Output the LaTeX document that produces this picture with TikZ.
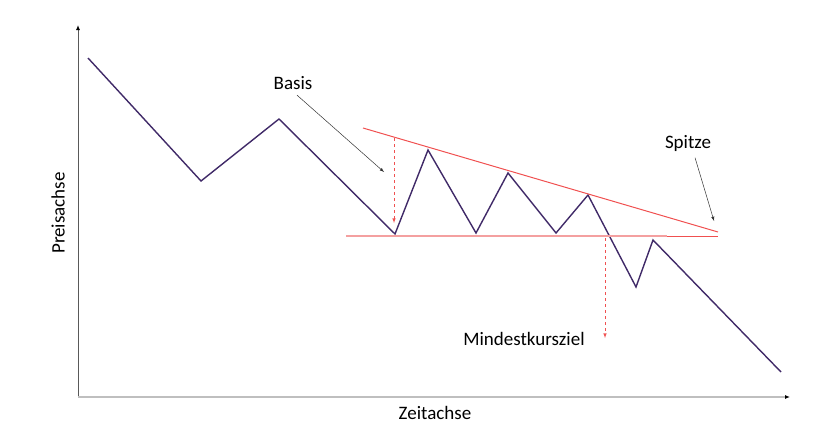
\documentclass[tikz,border=0pt]{standalone}
\usepackage{fontspec}
\setmainfont{Carlito}
\usepackage{tikz}
\usetikzlibrary{arrows.meta}
\definecolor{kurs}{RGB}{64,42,104}
\definecolor{trend}{RGB}{240,80,80}
\definecolor{trendhell}{RGB}{244,160,160}

\begin{document}
\begin{tikzpicture}[x=1pt, y=-1pt, >=latex, font=\fontsize{19}{22}\selectfont]
        \useasboundingbox (0,0) rectangle (840,447);
        % Achsen
        \coordinate (O) at (78,397);
        \coordinate (ytop) at (78,25);
        \coordinate (xend) at (790,397);
        \draw[-{Latex[length=5pt,width=4pt,black]}, black!65, line width=1pt] (O)--(ytop);
        \draw[-{Latex[length=5pt,width=4pt,black]}, black!25, line width=1.6pt] (O)--(xend);
        \node[rotate=90] (pa) at (58,213) {Preisachse};
        \node (za) at (435,413) {Zeitachse};
        % Kursverlauf
        \foreach \n/\p in {0/{88,58},1/{201,181},2/{279,119},3/{395,234},4/{428,150},5/{476,233},
                           6/{508,173},7/{556,233},8/{588,195},9/{636,287},10/{653,240},11/{781,372}}{
            \coordinate (k\n) at (\p);
        }
        \draw[kurs, line width=1.4pt, line join=miter]
            (k0)--(k1)--(k2)--(k3)--(k4)--(k5)--(k6)--(k7)--(k8)--(k9)--(k10)--(k11);
        % Trendlinien
        \coordinate (r0) at (363,128);
        \coordinate (r1) at (718,232);
        \coordinate (s0) at (346,236);
        \coordinate (s1) at (667,236);
        \coordinate (s2) at (718,236);
        \draw[trend, line width=1pt] (r0)--(r1);
        \draw[trendhell, line width=1.4pt] (s0)--(s1);
        \draw[trend, line width=1pt] (s1)--(s2);
        % Basis
        \coordinate (b0) at (394,138);
        \coordinate (b1) at (394,223);
        \draw[->, trend, dashed, line width=0.6pt] (b0)--(b1);
        \node (basis) at (293,83) {Basis};
        \coordinate (bz) at (384,172);
        \draw[->, black!80, line width=0.5pt] ([xshift=4pt,yshift=-2pt]basis.south)--(bz);
        % Spitze
        \node (spitze) at (688,143) {Spitze};
        \coordinate (sz) at (714,221);
        \draw[->, black!80, line width=0.5pt] ([xshift=7pt,yshift=-3pt]spitze.south)--(sz);
        % Mindestkursziel
        \coordinate (m0) at (605,238);
        \coordinate (m1) at (605,338);
        \draw[->, trend, dashed, line width=0.6pt] (m0)--(m1);
        \node (ziel) at (524,339) {Mindestkursziel};
    \end{tikzpicture}
\end{document}
